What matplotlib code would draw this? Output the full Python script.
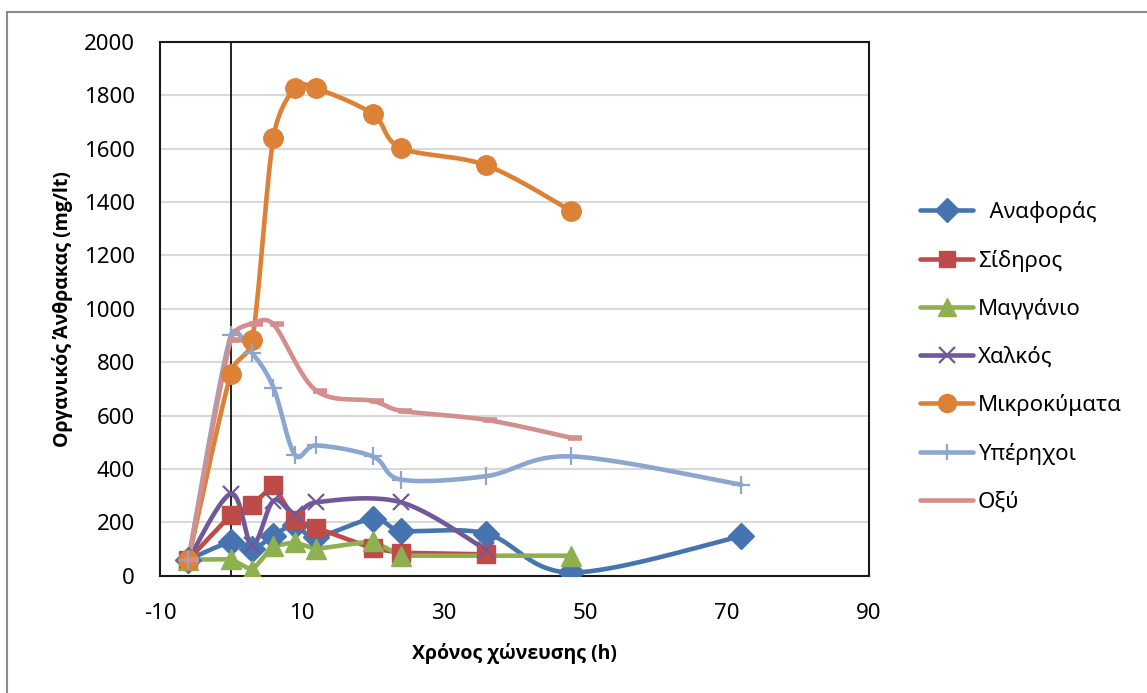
import numpy as np
import matplotlib
matplotlib.use("Agg")
import matplotlib.pyplot as plt
from matplotlib.path import Path
from matplotlib.patches import Rectangle

plt.rcParams['font.family'] = ['Noto Sans', 'DejaVu Sans']
plt.rcParams['axes.unicode_minus'] = False

# Χρόνοι μετρήσεων (h) και τιμές ανά μέθοδο
t_anaforas = [-6, 0, 3, 6, 9, 12, 20, 24, 36, 48, 72]
anaforas = [60, 125, 100, 150, 190, 145, 213, 169, 158, 12, 148]

t_sidiros = [-6, 0, 3, 6, 9, 12, 20, 24, 36]
sidiros = [60, 228, 265, 340, 208, 180, 102, 86, 80]

t_magganio = [-6, 0, 3, 6, 9, 12, 20, 24, 48]
magganio = [60, 62, 20, 112, 125, 100, 130, 75, 75]

t_xalkos = [-6, 0, 3, 6, 9, 12, 24, 36]
xalkos = [60, 307, 115, 281, 231, 275, 275, 97]

t_mikrokymata = [-6, 0, 3, 6, 9, 12, 20, 24, 36, 48]
mikrokymata = [60, 757, 884, 1642, 1826, 1826, 1730, 1603, 1538, 1367]

t_yperixoi = [-6, 0, 3, 6, 9, 12, 20, 24, 36, 48, 72]
yperixoi = [60, 902, 834, 705, 454, 488, 447, 360, 373, 447, 341]

t_oxy = [-6, 0, 3, 6, 12, 20, 24, 36, 48]
oxy = [60, 885, 945, 942, 694, 655, 618, 584, 517]

XLIM = (-10, 90)
YLIM = (0, 2000)
AX_PX = (160, 575.7, 709, 533.7)  # left, bottom (from top), width, height


def smooth(x, y, n=40, cap=0.5):
    # εξομαλυσμένη καμπύλη Bezier (σε pixel, με όριο στα σημεία ελέγχου)
    sx = AX_PX[2] / (XLIM[1] - XLIM[0])
    sy = AX_PX[3] / (YLIM[1] - YLIM[0])
    p = np.column_stack([np.asarray(x) * sx, np.asarray(y) * sy]).astype(float)
    out = [p[:1]]
    for i in range(len(p) - 1):
        p0 = p[i - 1] if i > 0 else p[i]
        p3 = p[i + 2] if i + 2 < len(p) else p[i + 1]
        seglen = np.hypot(*(p[i + 1] - p[i]))
        d1 = (p[i + 1] - p0) / 6
        d2 = (p3 - p[i]) / 6
        for d in (d1, d2):
            L = np.hypot(*d)
            if L > cap * seglen:
                d *= cap * seglen / L
        c1 = p[i] + d1
        c2 = p[i + 1] - d2
        s = np.linspace(0, 1, n)[1:, None]
        seg = ((1 - s) ** 3) * p[i] + 3 * ((1 - s) ** 2) * s * c1 \
            + 3 * (1 - s) * s ** 2 * c2 + s ** 3 * p[i + 1]
        out.append(seg)
    q = np.vstack(out)
    return q[:, 0] / sx, q[:, 1] / sy


dash = Path([(-0.25, 0), (1, 0)], [Path.MOVETO, Path.LINETO])

series = [
    ("  Αναφοράς", t_anaforas, anaforas, '#4674B0', 'D', 13, True),
    ("Σίδηρος", t_sidiros, sidiros, '#BE4B48', 's', 13, False),
    ("Μαγγάνιο", t_magganio, magganio, '#8EB04F', '^', 14, False),
    ("Χαλκός", t_xalkos, xalkos, '#71589A', 'x', 12, True),
    ("Μικροκύματα", t_mikrokymata, mikrokymata, '#DD8137', 'o', 14, True),
    ("Υπέρηχοι", t_yperixoi, yperixoi, '#8CA7CF', '+', 13, True),
    ("Οξύ", t_oxy, oxy, '#D38F8D', dash, 16, True),
]

fig = plt.figure(figsize=(11.47, 6.93), dpi=100)
ax = fig.add_axes([AX_PX[0] / 1147, 1 - AX_PX[1] / 693,
                   AX_PX[2] / 1147, AX_PX[3] / 693])

ax.axvline(0, color='black', lw=1.2, zorder=1)

handles = []
for name, t, v, c, m, ms, sm in series:
    if sm:
        xs, ys = smooth(t, v)
    else:
        xs, ys = t, v
    ax.plot(xs, ys, color=c, lw=3.3, solid_capstyle='round', zorder=2)
    thin = m in ('x', '+')
    ax.plot(t, v, ls='none', marker=m, ms=ms, color=c,
            mew=1.6 if thin else (4 if m is dash else 1), zorder=3)
    h, = ax.plot([], [], color=c, lw=3.3, marker=None if m is dash else m,
                 ms=ms - 1, mew=1.6 if thin else 1, solid_capstyle='round')
    handles.append(h)

ax.set_xlim(*XLIM)
ax.set_ylim(*YLIM)
ax.set_xticks(range(-10, 91, 20))
ax.set_yticks(range(0, 2001, 200))
ax.tick_params(length=0, labelsize=16)
ax.tick_params(axis='y', pad=18)
ax.tick_params(axis='x', pad=20)
ax.grid(axis='y', color='#D9D9D9', lw=1.5)
ax.set_axisbelow(True)
for s in ax.spines.values():
    s.set_color('#1a1a1a')
    s.set_linewidth(1.5)

bold = dict(family=['Open Sans', 'DejaVu Sans'], fontweight='bold', fontsize=14)
ax.set_xlabel('Χρόνος χώνευσης (h)', labelpad=13, **bold)
ax.set_ylabel('Οργανικός Άνθρακας (mg/lt)', labelpad=8, **bold)

fig.legend(handles, [s[0] for s in series], loc='upper left',
           bbox_to_anchor=(920 / 1147, 1 - 201 / 693), frameon=False,
           fontsize=16, handlelength=2.4, handletextpad=0.2,
           labelspacing=1.2, borderpad=0, borderaxespad=0)

# περίγραμμα γραφήματος
fig.patches.append(Rectangle((7, -20), 1200, 693 - 12 + 20, transform=None,
                             fill=False, edgecolor='#8c8c8c', lw=1.5))

fig.savefig('out.png', dpi=100)
